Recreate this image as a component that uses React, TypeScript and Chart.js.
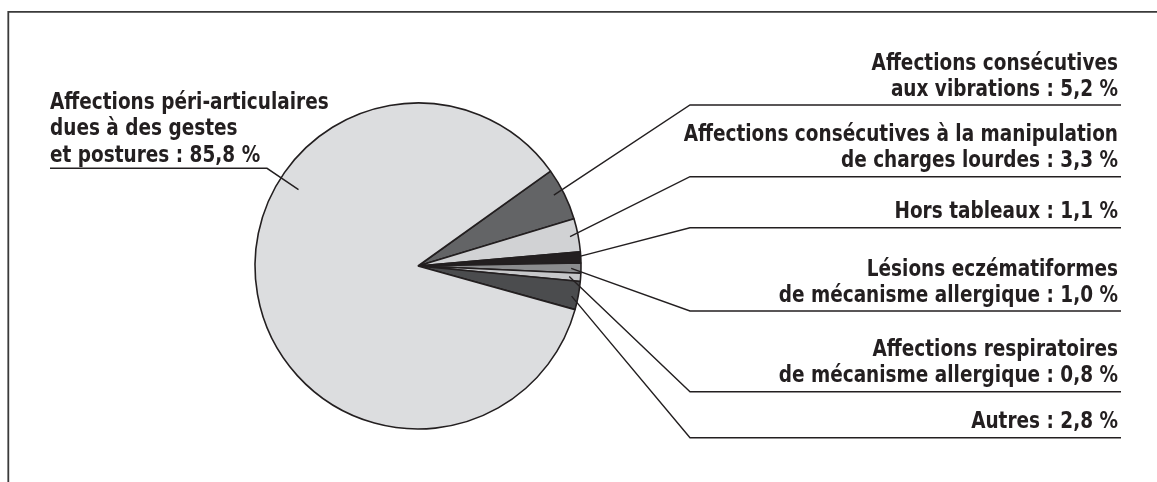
import { useEffect, useRef } from "react";
import { Chart, registerables } from "chart.js";
Chart.register(...registerables);

// ---- data ----
const categories = [
  "Affections consécutives aux vibrations",
  "Affections consécutives à la manipulation de charges lourdes",
  "Hors tableaux",
  "Lésions eczématiformes de mécanisme allergique",
  "Affections respiratoires de mécanisme allergique",
  "Autres",
  "Affections péri-articulaires dues à des gestes et postures",
];
const shares = [5.2, 3.3, 1.1, 1.0, 0.8, 2.8, 85.8];
// label text: leading lines, then a last-line prefix followed by the value
const labelHeadLines = [
  ["Affections consécutives"],
  ["Affections consécutives à la manipulation"],
  [],
  ["Lésions eczématiformes"],
  ["Affections respiratoires"],
  [],
  ["Affections péri-articulaires", "dues à des gestes"],
];
const labelLastPrefix = [
  "aux vibrations",
  "de charges lourdes",
  "Hors tableaux",
  "de mécanisme allergique",
  "de mécanisme allergique",
  "Autres",
  "et postures",
];

// ---- style ----
const sliceColors = ["#636466", "#d1d2d4", "#231f20", "#8b8c8e", "#c6c7c9", "#4b4c4e", "#dcdddf"];
const anchorFrac = [0.94, 0.95, 1.0, 0.94, 0.93, 0.96, 0.87];
const anchorAngleFrac = [0.43, 0.5, 0.38, 0.54, 0.5, 0.56, 0.638];
const rightUnderlineY = [105, 176.7, 227.7, 311, 391.7, 437.7];
const FONT = 'bold 23px "DejaVu Sans Condensed", "Liberation Sans Narrow", sans-serif';
const TEXT_SX = 0.893;
const INK = "#231f20";

const fmt = (v: number) => v.toFixed(1).replace(".", ",");

const labelsPlugin = {
  id: "leaderLabels",
  beforeDraw(chart: any) {
    const ctx = chart.ctx;
    ctx.save();
    ctx.strokeStyle = "#3a3a3a";
    ctx.lineWidth = 1.8;
    ctx.beginPath();
    ctx.moveTo(8.3, 482);
    ctx.lineTo(8.3, 11.8);
    ctx.lineTo(1157, 11.8);
    ctx.stroke();
    ctx.restore();
  },
  afterDraw(chart: any) {
    const ctx = chart.ctx;
    const meta = chart.getDatasetMeta(0);
    ctx.save();
    ctx.font = FONT;
    ctx.fillStyle = INK;
    ctx.strokeStyle = INK;
    ctx.lineWidth = 1.4;
    const drawText = (t: string, x: number, y: number, align: string) => {
      ctx.save();
      ctx.translate(x, y);
      ctx.scale(TEXT_SX, 1);
      ctx.textAlign = align;
      ctx.textBaseline = "alphabetic";
      ctx.fillText(t, 0, 0);
      ctx.restore();
    };
    meta.data.forEach((arc: any, i: number) => {
      const p = arc.getProps(["x", "y", "startAngle", "endAngle", "outerRadius"], true);
      const ang = p.startAngle + (p.endAngle - p.startAngle) * anchorAngleFrac[i];
      const ax = p.x + Math.cos(ang) * p.outerRadius * anchorFrac[i];
      const ay = p.y + Math.sin(ang) * p.outerRadius * anchorFrac[i];
      const lines = [...labelHeadLines[i], `${labelLastPrefix[i]} : ${fmt(shares[i])} %`];
      if (i < 6) {
        const uy = rightUnderlineY[i];
        ctx.beginPath();
        ctx.moveTo(ax, ay);
        ctx.lineTo(690, uy);
        ctx.lineTo(1121, uy);
        ctx.stroke();
        lines.forEach((t, k) => {
          drawText(t, 1118, uy - 9.5 - (lines.length - 1 - k) * 26, "right");
        });
      } else {
        const uy = 168.3;
        ctx.beginPath();
        ctx.moveTo(ax, ay);
        ctx.lineTo(267, uy);
        ctx.lineTo(50, uy);
        ctx.stroke();
        lines.forEach((t, k) => {
          drawText(t, 50, uy - 6.5 - (lines.length - 1 - k) * 26.5, "left");
        });
      }
    });
    ctx.restore();
  },
};

export default function App() {
  const ref = useRef<HTMLCanvasElement>(null);
  useEffect(() => {
    if (!ref.current) return;
    const chart = new Chart(ref.current, {
      type: "pie",
      data: {
        labels: categories,
        datasets: [
          {
            data: shares,
            backgroundColor: sliceColors,
            borderColor: INK,
            borderWidth: 1.6,
          },
        ],
      },
      options: {
        animation: false,
        responsive: false,
        rotation: 54.4,
        radius: 163,
        layout: { padding: { left: 0, right: 321, top: 50, bottom: 0 } },
        plugins: { legend: { display: false }, tooltip: { enabled: false } },
      } as any,
      plugins: [labelsPlugin],
    });
    return () => chart.destroy();
  }, []);
  return (
    <div style={{ position: "fixed", left: 0, top: 0, width: 1157, height: 482, background: "#fff" }}>
      <canvas ref={ref} width={1157} height={482} style={{ width: 1157, height: 482, display: "block" }} />
    </div>
  );
}
